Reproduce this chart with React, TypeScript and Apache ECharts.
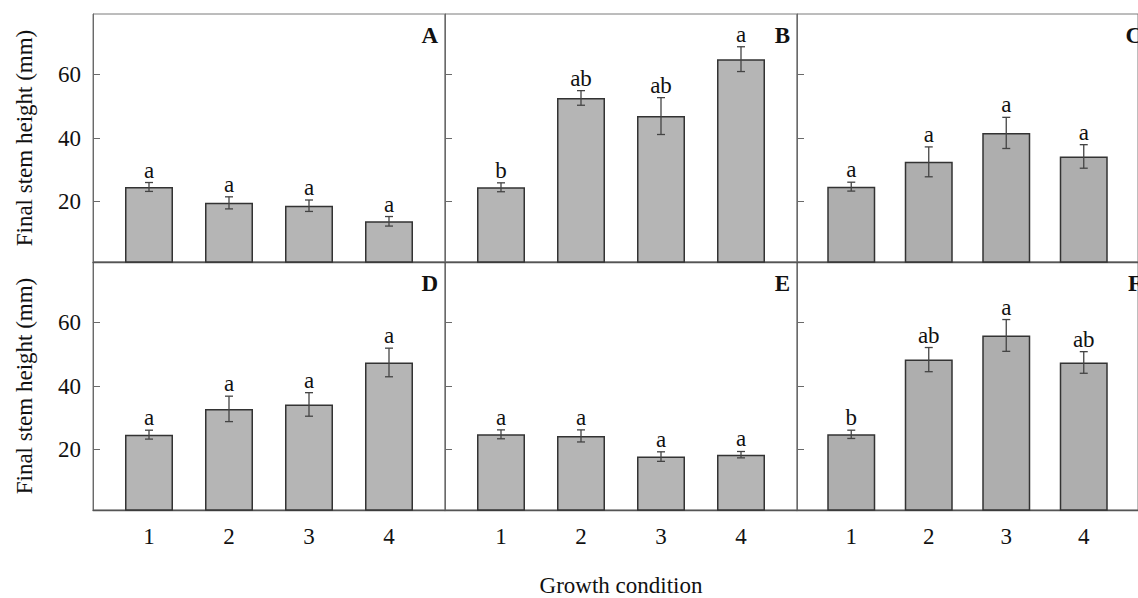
import React, { useEffect, useRef } from "react";
import * as echarts from "echarts";

// Growth conditions on the x axis
const conditions = [1, 2, 3, 4];
const yTicks = [20, 40, 60];
const panelLetters = ["A", "B", "C", "D", "E", "F"];

// Final stem height (mm): means, standard errors and significance letters per panel
const meansA = [24.6, 19.6, 18.7, 13.8];
const errA = [1.4, 1.9, 1.8, 1.5];
const sigA = ["a", "a", "a", "a"];

const meansB = [24.5, 52.6, 46.9, 64.8];
const errB = [1.4, 2.3, 5.8, 3.9];
const sigB = ["b", "ab", "ab", "a"];

const meansC = [24.7, 32.5, 41.6, 34.2];
const errC = [1.4, 4.7, 4.9, 3.7];
const sigC = ["a", "a", "a", "a"];

const meansD = [24.7, 32.8, 34.2, 47.4];
const errD = [1.4, 4.0, 3.7, 4.5];
const sigD = ["a", "a", "a", "a"];

const meansE = [24.8, 24.3, 17.8, 18.4];
const errE = [1.4, 1.9, 1.5, 1.0];
const sigE = ["a", "a", "a", "a"];

const meansF = [24.8, 48.3, 55.9, 47.4];
const errF = [1.3, 3.8, 5.0, 3.4];
const sigF = ["b", "ab", "a", "ab"];

const panels = [
  { means: meansA, errs: errA, sig: sigA },
  { means: meansB, errs: errB, sig: sigB },
  { means: meansC, errs: errC, sig: sigC },
  { means: meansD, errs: errD, sig: sigD },
  { means: meansE, errs: errE, sig: sigE },
  { means: meansF, errs: errF, sig: sigF },
];

const FONT = "'Liberation Serif', 'Times New Roman', Times, serif";
const FS = 23;
const LEFT = 93;
const PANEL_W = 352;
const PANEL_H = 248;
const TOPS = [14, 262];

export default function App() {
  const ref = useRef<HTMLDivElement>(null);

  useEffect(() => {
    if (!ref.current) return;
    const chart = echarts.init(ref.current, undefined, { renderer: "svg" });

    const grids: any[] = [];
    const xAxes: any[] = [];
    const yAxes: any[] = [];
    const series: any[] = [];
    const graphics: any[] = [];

    panels.forEach((p, i) => {
      const col = i % 3;
      const row = Math.floor(i / 3);
      const left = LEFT + col * PANEL_W;
      const top = TOPS[row];
      grids.push({
        left,
        top,
        width: PANEL_W,
        height: PANEL_H,
        show: true,
        borderColor: "#7a7a7a",
        borderWidth: 1,
        backgroundColor: "transparent",
      });
      xAxes.push({
        gridIndex: i,
        type: "value",
        min: 0.3,
        max: 4.7,
        splitLine: { show: false },
        axisTick: { show: false },
        axisLine: { show: true, lineStyle: { color: "#555", width: 1.4 } },
        axisLabel: {
          show: row === 1,
          customValues: conditions,
          fontFamily: FONT,
          fontSize: FS,
          color: "#111",
          margin: 15,
        },
      });
      yAxes.push({
        gridIndex: i,
        type: "value",
        min: 1,
        max: 79,
        splitLine: { show: false },
        axisLine: { show: true, lineStyle: { color: "#6a6a6a", width: 1 } },
        axisTick: {
          show: true,
          inside: true,
          length: 7,
          customValues: yTicks,
          lineStyle: { color: "#6a6a6a" },
        },
        axisLabel: {
          show: col === 0,
          customValues: yTicks,
          fontFamily: FONT,
          fontSize: FS,
          color: "#111",
          margin: 12,
        },
        name: col === 0 ? "Final stem height (mm)" : "",
        nameLocation: "middle",
        nameGap: 57,
        nameTextStyle: { fontFamily: FONT, fontSize: FS, color: "#111" },
      });
      const fill = col === 2 ? "#aeaeae" : "#b5b5b5";
      series.push({
        type: "bar",
        xAxisIndex: i,
        yAxisIndex: i,
        barWidth: 48,
        data: conditions.map((c, j) => [c, p.means[j]]),
        itemStyle: { color: fill, borderColor: "#333", borderWidth: 1.5 },
        z: 2,
      });
      series.push({
        type: "custom",
        xAxisIndex: i,
        yAxisIndex: i,
        z: 5,
        data: conditions.map((c, j) => [c, p.means[j], p.errs[j]]),
        renderItem: (params: any, api: any) => {
          const x = api.value(0);
          const m = api.value(1);
          const e = api.value(2);
          const hi = api.coord([x, m + e]);
          const lo = api.coord([x, m - e]);
          const cap = 4;
          const ls = { stroke: "#444", lineWidth: 1.3 };
          return {
            type: "group",
            children: [
              { type: "line", shape: { x1: hi[0], y1: hi[1], x2: lo[0], y2: lo[1] }, style: ls },
              { type: "line", shape: { x1: hi[0] - cap, y1: hi[1], x2: hi[0] + cap, y2: hi[1] }, style: ls },
              { type: "line", shape: { x1: lo[0] - cap, y1: lo[1], x2: lo[0] + cap, y2: lo[1] }, style: ls },
              {
                type: "text",
                style: {
                  text: p.sig[params.dataIndex],
                  x: hi[0],
                  y: hi[1] - 1,
                  align: "center",
                  verticalAlign: "bottom",
                  textAlign: "center",
                  textVerticalAlign: "bottom",
                  font: `${FS}px ${FONT}`,
                  fill: "#111",
                },
              },
            ],
          };
        },
      });
      graphics.push({
        type: "text",
        x: left + PANEL_W - 7,
        y: top + 21,
        style: {
          text: panelLetters[i],
          align: "right",
          verticalAlign: "middle",
          textAlign: "right",
          textVerticalAlign: "middle",
          font: `bold ${FS}px ${FONT}`,
          fill: "#111",
        },
        z: 10,
      });
    });

    graphics.push({
      type: "text",
      x: LEFT + (PANEL_W * 3) / 2,
      y: 585,
      style: {
        text: "Growth condition",
        align: "center",
        verticalAlign: "middle",
        textAlign: "center",
        textVerticalAlign: "middle",
        font: `${FS}px ${FONT}`,
        fill: "#111",
      },
    });

    chart.setOption({
      animation: false,
      backgroundColor: "#fff",
      grid: grids,
      xAxis: xAxes,
      yAxis: yAxes,
      series,
      graphic: graphics,
    });

    return () => chart.dispose();
  }, []);

  return (
    <div
      ref={ref}
      style={{ position: "fixed", left: 0, top: 0, width: 1138, height: 598 }}
    />
  );
}
